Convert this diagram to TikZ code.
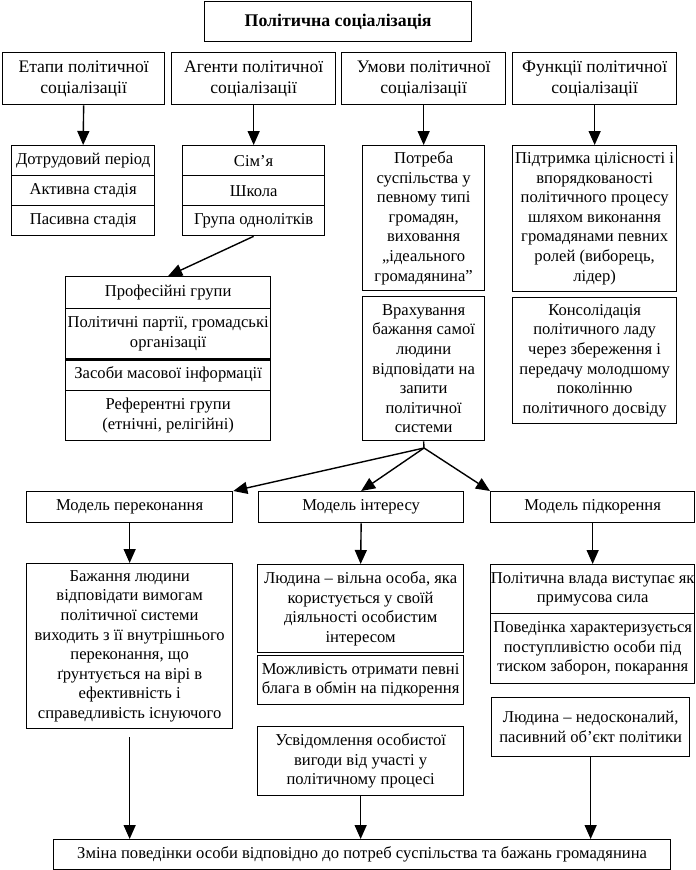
\documentclass[tikz,border=0pt]{standalone}
\usepackage{fontspec}
\setmainfont{Liberation Serif}
\usetikzlibrary{arrows.meta}
\begin{document}
\begin{tikzpicture}[->,>={Triangle[length=14pt,width=12pt]},x=1pt,y=-1pt,
			line width=1.4pt,font=\fontsize{16.6}{19.6}\selectfont,
			cell/.style 2 args={minimum width=#1pt,minimum height=#2pt}]
			\tikzstyle{box}=[draw,-,anchor=north west,align=center,inner sep=0pt,line width=1.3pt]
			\tikzstyle{head}=[box,font=\fontsize{17.6}{20.5}\selectfont]
			\useasboundingbox (0,0) rectangle (696,870);
			
			\node[box,cell={267}{40},font=\fontsize{17.8}{20}\selectfont\bfseries] (T) at (204,1) {Політична соціалізація};
			
			\node[head,cell={162}{52}] (H1) at (2,52)   {Етапи політичної\\соціалізації};
			\node[head,cell={164}{52}] (H2) at (171,52) {Агенти політичної\\соціалізації};
			\node[head,cell={164}{52}] (H3) at (341,52) {Умови політичної\\соціалізації};
			\node[head,cell={164}{52}] (H4) at (512,52) {Функції політичної\\соціалізації};
			
			\node[box,cell={143}{30}] (S1) at (11,145) {Дотрудовий період};
			\node[box,cell={143}{30}] (S2) at (11,175) {Активна стадія};
			\node[box,cell={143}{30}] (S3) at (11,205) {Пасивна стадія};
			
			\node[box,cell={142}{30}] (A1) at (182,145) {Сім’я};
			\node[box,cell={142}{30}] (A2) at (182,175) {Школа};
			\node[box,cell={142}{30}] (A3) at (182,205) {Група однолітків};
			
			\node[box,cell={122}{145}] (U1) at (362,145) {Потреба\\суспільства у\\певному типі\\громадян,\\виховання\\„ідеального\\громадянина”};
			\node[box,cell={122}{144}] (U2) at (362,296) {Врахування\\бажання самої\\людини\\відповідати на\\запити\\політичної\\системи};
			
			\node[box,cell={164}{146}] (F1) at (512,145) {Підтримка цілісності і\\впорядкованості\\політичного процесу\\шляхом виконання\\громадянами певних\\ролей (виборець,\\лідер)};
			\node[box,cell={164}{126}] (F2) at (512,297) {Консолідація\\політичного ладу\\через збереження і\\передачу молодшому\\поколінню\\політичного досвіду};
			
			\node[box,cell={205}{32}] (P1) at (65,276) {Професійні групи};
			\node[box,cell={205}{50}] (P2) at (65,308) {Політичні партії, громадські\\організації};
			\node[box,cell={205}{32}] (P3) at (65,358) {Засоби масової інформації};
			\node[box,cell={205}{50}] (P4) at (65,390) {Референтні групи\\(етнічні, релігійні)};
			\draw[-,line width=2.4pt] (P2.south west) -- (P2.south east);
			
			\coordinate (br) at (424,448);
			\node[box,cell={206}{31}] (M1) at (26,491)  {Модель переконання};
			\node[box,cell={205}{31}] (M2) at (258,491) {Модель інтересу};
			\node[box,cell={204}{31}] (M3) at (490,491) {Модель підкорення};
			
			\node[box,cell={206}{165}] (B) at (26,563) {Бажання людини\\відповідати вимогам\\політичної системи\\виходить з її внутрішнього\\переконання, що\\ґрунтується на вірі в\\ефективність і\\справедливість існуючого};
			
			\node[box,cell={206}{88}] (I1) at (257,564) {Людина – вільна особа, яка\\користується у своїй\\діяльності особистим\\інтересом};
			\node[box,cell={206}{49}] (I2) at (257,655) {Можливість отримати певні\\блага в обмін на підкорення};
			\node[box,cell={206}{69}] (I3) at (257,726) {Усвідомлення особистої\\вигоди від участі у\\політичному процесі};
			
			\node[box,cell={204}{49}] (K1) at (490,564) {Політична влада виступає як\\примусова сила};
			\node[box,cell={204}{70}] (K2) at (490,613) {Поведінка характеризується\\поступливістю особи під\\тиском заборон, покарання};
			\node[box,cell={198}{59}] (K3) at (491,697) {Людина – недосконалий,\\пасивний об’єкт політики};
			
			\node[box,cell={617}{30}] (Z) at (53,839) {Зміна поведінки особи відповідно до потреб суспільства та бажань громадянина};
			
			\path
			(H1.south) edge (S1.north)
			(H2.south) edge (A1.north)
			(H3.south) edge (U1.north)
			(H4.south) edge (F1.north)
			(A3.south) edge (P1.north)
			(br) edge (M1.north east)
			(br) edge (M2.north)
			(br) edge (M3.north west)
			(U2.south) edge[-] (br)
			(M1.south) edge (B.north)
			(M2.south) edge (I1.north)
			(M3.south) edge (K1.north)
			([yshift=-8pt]B.south) edge (B.south |- Z.north)
			(I3.south) edge (I3.south |- Z.north)
			(K3.south) edge (K3.south |- Z.north);
\end{tikzpicture}
\end{document}
